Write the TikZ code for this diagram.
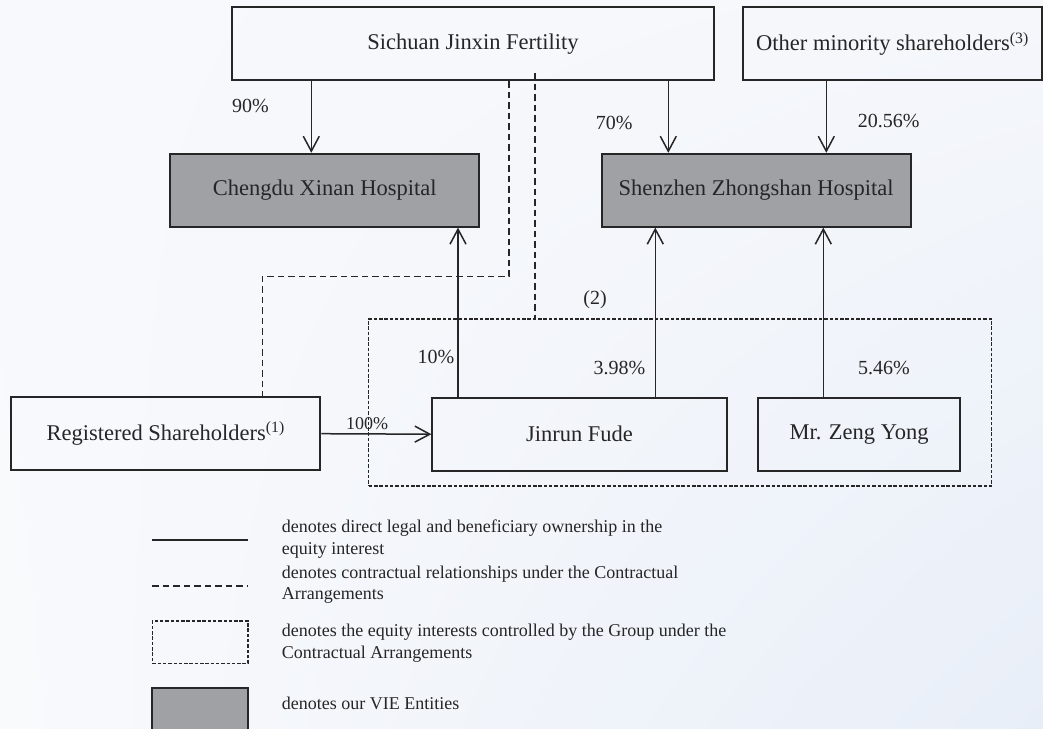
\documentclass[tikz,border=0pt]{standalone}
\usepackage{fontspec}
\setmainfont{Liberation Serif}
\usetikzlibrary{arrows.meta,shadings}
\definecolor{ink}{HTML}{262626}
\definecolor{txt}{HTML}{262626}
\definecolor{vie}{HTML}{A0A1A5}
\definecolor{bgA}{HTML}{F8F9FC}
\definecolor{bgB}{HTML}{F5F7FB}
\definecolor{bgC}{HTML}{F9FAFC}
\definecolor{bgD}{HTML}{E8EEF8}
\tikzset{
  box/.style={draw=ink, line width=1.8pt, text=txt, font=\fontsize{22.5}{27}\selectfont, inner sep=0pt},
  viebox/.style={draw=ink, line width=1.8pt, fill=vie, text=txt, font=\fontsize{22.5}{27}\selectfont, inner sep=0pt},
  own/.style={draw=ink, line width=1.5pt, -{Straight Barb[length=15pt, width=16pt, line width=1.5pt]}},
  ownline/.style={draw=ink, line width=1.6pt},
  contract/.style={draw=ink, line width=1.5pt, dash pattern=on 6.5pt off 4pt},
  groupline/.style={draw=ink, line width=1.4pt, dash pattern=on 3.5pt off 1.8pt},
  pct/.style={text=txt, font=\fontsize{20}{24}\selectfont, inner sep=0pt},
  lgtext/.style={text=txt, font=\fontsize{18}{21.6}\selectfont, inner sep=0pt, anchor=base west},
}
\begin{document}
\begin{tikzpicture}[x=1pt, y=-1pt]
\useasboundingbox (0,0) rectangle (1043,728);
\clip (0,0) rectangle (1043,728);
\shade[upper left=bgA, upper right=bgB, lower left=bgC, lower right=bgD] (0,0) rectangle (1043,728);

% group box (dotted)
\node[groupline, minimum width=623pt, minimum height=167pt, inner sep=0pt] (grp) at (680.2,402.5) {};

% entity boxes
\node[box, minimum width=482.6pt, minimum height=73pt] (sich) at (473,43.8) {Sichuan Jinxin Fertility};
\node[box, minimum width=298.4pt, minimum height=73pt] (oth) at (892.5,43.8) {Other minority shareholders\textsuperscript{(3)}};
\node[viebox, minimum width=309.3pt, minimum height=73pt] (cdx) at (324.7,190.2) {Chengdu Xinan Hospital};
\node[viebox, minimum width=309pt, minimum height=73pt] (szh) at (756.2,190.2) {Shenzhen Zhongshan Hospital};
\node[box, minimum width=309.3pt, minimum height=72.7pt] (reg) at (165.7,433.7) {Registered Shareholders\textsuperscript{(1)}};
\node[box, minimum width=294.4pt, minimum height=73pt] (jrf) at (579.5,434.2) {Jinrun Fude};
\node[box, minimum width=202.6pt, minimum height=72.7pt] (zeng) at (859,434.3) {Mr. Zeng Yong};

% x positions of connectors
\coordinate (xa) at (311.3,0);
\coordinate (xb) at (668.3,0);
\coordinate (xc) at (826.3,0);
\coordinate (xd) at (458,0);
\coordinate (xe) at (655.3,0);
\coordinate (xf) at (823.3,0);
\coordinate (xg) at (535,0);
\coordinate (d1) at (509,276.3);
\coordinate (d2) at (262.3,276.3);

% ownership arrows
\draw[own] (sich.south -| xa) -- (cdx.north -| xa);
\draw[own] (sich.south -| xb) -- (szh.north -| xb);
\draw[own] (oth.south -| xc) -- (szh.north -| xc);
\draw[own] (jrf.north -| xd) -- (cdx.south -| xd);
\draw[own] (jrf.north -| xe) -- (szh.south -| xe);
\draw[own] (zeng.north -| xf) -- (szh.south -| xf);
\draw[own] (reg.east) -- (jrf.west);

% contractual lines
\draw[contract] (sich.south -| d1) -- (d1) -- (d2) -- (reg.north -| d2);
\draw[contract] ([yshift=8pt]sich.south -| xg) -- (grp.north -| xg);

% percentage labels
\node[pct] (l90) at (250.5,106) {90\%};
\node[pct] (l70) at (614.3,123) {70\%};
\node[pct] (l2056) at (888.8,120.7) {20.56\%};
\node[pct] (l10) at (436,356.7) {10\%};
\node[pct] (l398) at (619.5,368) {3.98\%};
\node[pct] (l546) at (884,368) {5.46\%};
\node[pct] (l2) at (595,300) {(2)};
\node[pct, font=\fontsize{18}{21}\selectfont] (l100) at (367,424) {100\%};

% legend
\coordinate (ga) at (152.3,539.7);
\coordinate (gb) at (248,539.7);
\draw[ownline] (ga) -- (gb);
\coordinate (gc) at (152.3,586);
\coordinate (gd) at (248,586);
\draw[contract] (gc) -- (gd);
\node[groupline, minimum width=95.7pt, minimum height=42.3pt, inner sep=0pt] (lgrp) at (200.15,642.15) {};
\node[viebox, minimum width=95.7pt, minimum height=60pt] (lvie) at (200.15,718.3) {};

\node[lgtext] (t1a) at (281.7,532.7) {denotes direct legal and beneficiary ownership in the};
\node[lgtext] (t1b) at (281.7,554.3) {equity interest};
\node[lgtext] (t2a) at (281.7,578.3) {denotes contractual relationships under the Contractual};
\node[lgtext] (t2b) at (281.7,599.3) {Arrangements};
\node[lgtext] (t3a) at (281.7,636.7) {denotes the equity interests controlled by the Group under the};
\node[lgtext] (t3b) at (281.7,658) {Contractual Arrangements};
\node[lgtext] (t4a) at (281.7,709) {denotes our VIE Entities};
\end{tikzpicture}
\end{document}
